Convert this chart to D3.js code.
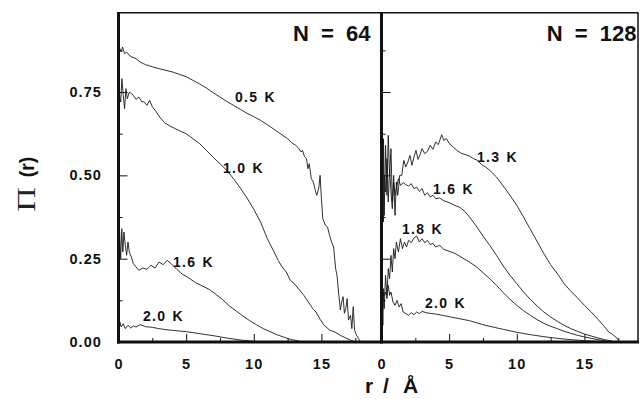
<!DOCTYPE html>
<html>
<head>
<meta charset="utf-8">
<script src="https://cdn.jsdelivr.net/npm/d3@7"></script>
<style>
  body { margin: 0; background: #fff; }
  svg { display: block; font-family: 'Liberation Sans', Arial, sans-serif; }
</style>
</head>
<body>
<div id="chart"></div>
<script>
// N = 64 panel
const r64_05 = [0, 0.1, 0.2, 0.3, 0.45, 0.6, 0.8, 1.0, 1.3, 1.6, 2.0, 2.5, 3.0, 3.5, 4.0, 4.5, 5.0, 5.5, 6.0, 6.5, 7.0, 7.5, 8.0, 8.5, 9.0, 9.5, 10.0, 10.5, 11.0, 11.5, 12.0, 12.5, 12.8, 13.1, 13.3, 13.5, 13.6, 13.75, 13.9, 14.0, 14.1, 14.25, 14.4, 14.55, 14.65, 14.8, 14.9, 15.0, 15.1, 15.3, 15.45, 15.6, 15.75, 15.9, 16.05, 16.15, 16.25, 16.4, 16.5, 16.6, 16.7, 16.8, 16.9, 17.0, 17.15, 17.25, 17.35, 17.45, 17.6, 17.75, 17.9]
const v64_05 = [0.86, 0.88, 0.87, 0.885, 0.865, 0.87, 0.86, 0.855, 0.85, 0.84, 0.832, 0.826, 0.82, 0.815, 0.81, 0.803, 0.796, 0.785, 0.774, 0.762, 0.748, 0.735, 0.722, 0.71, 0.698, 0.686, 0.676, 0.665, 0.652, 0.638, 0.624, 0.61, 0.598, 0.59, 0.582, 0.57, 0.575, 0.556, 0.55, 0.52, 0.535, 0.49, 0.48, 0.455, 0.44, 0.46, 0.5, 0.43, 0.37, 0.35, 0.345, 0.32, 0.3, 0.285, 0.22, 0.2, 0.156, 0.096, 0.12, 0.136, 0.086, 0.1, 0.13, 0.066, 0.08, 0.04, 0.106, 0.035, 0.02, 0.01, 0.0]

const r64_10 = [0, 0.08, 0.16, 0.25, 0.35, 0.45, 0.55, 0.65, 0.8, 0.95, 1.1, 1.3, 1.5, 1.7, 1.9, 2.1, 2.3, 2.5, 2.8, 3.1, 3.4, 3.8, 4.2, 4.6, 5.0, 5.5, 6.0, 6.5, 7.0, 7.5, 8.0, 8.5, 9.0, 9.5, 10.0, 10.5, 11.0, 11.5, 11.8, 12.1, 12.4, 12.7, 13.0, 13.4, 13.7, 13.9, 14.2, 14.4, 14.6, 14.9, 15.2, 15.6, 16.0, 16.4, 16.8, 17.2, 17.5]
const v64_10 = [0.70, 0.74, 0.72, 0.79, 0.74, 0.70, 0.76, 0.73, 0.75, 0.745, 0.74, 0.728, 0.735, 0.722, 0.72, 0.71, 0.725, 0.706, 0.69, 0.672, 0.658, 0.648, 0.64, 0.632, 0.625, 0.61, 0.595, 0.575, 0.554, 0.535, 0.515, 0.49, 0.462, 0.432, 0.398, 0.36, 0.31, 0.27, 0.245, 0.225, 0.21, 0.185, 0.175, 0.155, 0.14, 0.128, 0.11, 0.098, 0.09, 0.068, 0.05, 0.036, 0.03, 0.02, 0.012, 0.005, 0.0]

const r64_16 = [0, 0.08, 0.16, 0.24, 0.32, 0.4, 0.5, 0.6, 0.7, 0.8, 0.95, 1.1, 1.3, 1.5, 1.8, 2.1, 2.4, 2.7, 3.0, 3.3, 3.6, 3.9, 4.3, 4.7, 5.2, 5.7, 6.2, 6.7, 7.2, 7.7, 8.2, 8.7, 9.2, 9.7, 10.2, 10.7, 11.2, 11.7, 12.2, 12.7, 13.2, 13.6]
const v64_16 = [0.28, 0.33, 0.25, 0.34, 0.27, 0.33, 0.29, 0.26, 0.30, 0.27, 0.255, 0.235, 0.225, 0.215, 0.222, 0.218, 0.23, 0.222, 0.24, 0.232, 0.245, 0.235, 0.218, 0.204, 0.192, 0.178, 0.168, 0.158, 0.143, 0.127, 0.108, 0.093, 0.078, 0.064, 0.052, 0.04, 0.031, 0.022, 0.015, 0.008, 0.004, 0.0]

const r64_20 = [0, 0.1, 0.2, 0.35, 0.5, 0.7, 0.9, 1.1, 1.3, 1.6, 2.0, 2.5, 3.0, 3.5, 4.0, 5.0, 6.0, 7.0, 8.0, 9.0, 10.0, 11.0]
const v64_20 = [0.02, 0.06, 0.045, 0.055, 0.04, 0.05, 0.042, 0.048, 0.045, 0.052, 0.046, 0.044, 0.04, 0.037, 0.035, 0.031, 0.025, 0.019, 0.012, 0.006, 0.002, 0.0]

// N = 128 panel
const r128_13 = [0, 0.05, 0.1, 0.15, 0.2, 0.3, 0.4, 0.5, 0.6, 0.7, 0.8, 0.9, 1.0, 1.1, 1.2, 1.35, 1.5, 1.65, 1.8, 1.95, 2.1, 2.25, 2.4, 2.55, 2.7, 2.85, 3.0, 3.2, 3.4, 3.6, 3.8, 4.0, 4.2, 4.45, 4.6, 4.8, 5.0, 5.3, 5.6, 5.9, 6.2, 6.5, 6.8, 7.1, 7.4, 7.7, 8.0, 8.5, 9.0, 9.5, 10.0, 10.5, 11.0, 11.5, 12.0, 12.5, 13.0, 13.5, 14.0, 14.5, 15.0, 15.5, 16.0, 16.4, 16.8, 17.1, 17.4, 17.6]
const v128_13 = [0.45, 0.63, 0.40, 0.61, 0.38, 0.59, 0.44, 0.62, 0.50, 0.58, 0.42, 0.50, 0.38, 0.48, 0.44, 0.50, 0.50, 0.545, 0.525, 0.54, 0.56, 0.53, 0.555, 0.575, 0.548, 0.562, 0.58, 0.565, 0.572, 0.59, 0.578, 0.6, 0.592, 0.622, 0.605, 0.61, 0.596, 0.585, 0.574, 0.566, 0.562, 0.558, 0.55, 0.545, 0.532, 0.525, 0.515, 0.495, 0.468, 0.44, 0.41, 0.375, 0.338, 0.302, 0.265, 0.232, 0.205, 0.175, 0.152, 0.132, 0.11, 0.09, 0.068, 0.05, 0.03, 0.022, 0.012, 0.0]

const r128_16 = [0, 0.05, 0.1, 0.15, 0.2, 0.3, 0.4, 0.5, 0.6, 0.7, 0.8, 0.9, 1.0, 1.1, 1.25, 1.4, 1.6, 1.8, 2.0, 2.2, 2.4, 2.6, 2.8, 3.0, 3.2, 3.4, 3.6, 3.8, 4.0, 4.3, 4.6, 5.0, 5.4, 5.8, 6.2, 6.6, 7.0, 7.5, 8.0, 8.5, 9.0, 9.5, 10.0, 10.5, 11.0, 11.5, 12.0, 12.5, 13.0, 13.5, 14.0, 14.5, 15.0, 15.5, 16.0, 16.5, 17.0, 17.3]
const v128_16 = [0.52, 0.40, 0.56, 0.36, 0.50, 0.45, 0.55, 0.42, 0.52, 0.45, 0.40, 0.48, 0.44, 0.46, 0.49, 0.47, 0.478, 0.472, 0.468, 0.475, 0.46, 0.465, 0.452, 0.46, 0.44, 0.448, 0.435, 0.44, 0.43, 0.432, 0.424, 0.418, 0.41, 0.404, 0.39, 0.37, 0.348, 0.318, 0.29, 0.26, 0.228, 0.2, 0.175, 0.15, 0.128, 0.108, 0.09, 0.075, 0.062, 0.05, 0.04, 0.032, 0.024, 0.018, 0.012, 0.007, 0.003, 0.0]

const r128_18 = [0, 0.05, 0.1, 0.15, 0.2, 0.3, 0.4, 0.5, 0.6, 0.7, 0.8, 0.9, 1.0, 1.1, 1.25, 1.4, 1.55, 1.7, 1.85, 2.0, 2.2, 2.4, 2.6, 2.8, 3.0, 3.2, 3.4, 3.6, 3.8, 4.0, 4.3, 4.6, 5.0, 5.3, 5.6, 6.0, 6.5, 7.0, 7.5, 8.0, 8.5, 9.0, 9.5, 10.0, 10.5, 11.0, 11.5, 12.0, 12.5, 13.0, 13.5, 14.0, 14.5, 15.0, 15.5, 16.0, 16.5, 17.0]
const v128_18 = [0.08, 0.12, 0.05, 0.15, 0.10, 0.20, 0.14, 0.22, 0.19, 0.26, 0.21, 0.28, 0.25, 0.30, 0.27, 0.31, 0.28, 0.30, 0.285, 0.305, 0.298, 0.312, 0.318, 0.30, 0.31, 0.298, 0.305, 0.292, 0.296, 0.285, 0.29, 0.278, 0.272, 0.268, 0.262, 0.252, 0.24, 0.226, 0.208, 0.19, 0.17, 0.148, 0.128, 0.11, 0.094, 0.08, 0.067, 0.056, 0.047, 0.04, 0.032, 0.026, 0.02, 0.015, 0.011, 0.007, 0.004, 0.0]

const r128_20 = [0, 0.05, 0.1, 0.15, 0.2, 0.3, 0.4, 0.5, 0.6, 0.7, 0.85, 1.0, 1.15, 1.3, 1.45, 1.6, 1.8, 2.0, 2.2, 2.4, 2.6, 2.8, 3.0, 3.3, 3.6, 4.0, 4.5, 5.0, 5.5, 6.0, 6.5, 7.0, 7.5, 8.0, 9.0, 10.0, 11.0, 12.0, 13.0, 14.0, 15.0, 16.0, 17.0]
const v128_20 = [0.10, 0.17, 0.12, 0.16, 0.14, 0.15, 0.13, 0.17, 0.14, 0.15, 0.12, 0.11, 0.125, 0.105, 0.115, 0.09, 0.085, 0.08, 0.088, 0.082, 0.09, 0.085, 0.092, 0.088, 0.086, 0.084, 0.08, 0.076, 0.072, 0.068, 0.064, 0.058, 0.052, 0.047, 0.038, 0.029, 0.022, 0.016, 0.011, 0.007, 0.004, 0.002, 0.0]

const xMajor = [0, 5, 10, 15]
const xMinor = [2.5, 7.5, 12.5, 17.5]
const yMajor = [0, 0.25, 0.5, 0.75]
const yMinor = [0.125, 0.375, 0.625, 0.875]

const panels = [
    { title: 'N = 64', xmax: 19.44, range: [118.5, 381.5],
      curves: [
        { r: r64_05, v: v64_05, label: '0.5 K', lx: 235, ly: 101.5 },
        { r: r64_10, v: v64_10, label: '1.0 K', lx: 223, ly: 173 },
        { r: r64_16, v: v64_16, label: '1.6 K', lx: 173, ly: 267 },
        { r: r64_20, v: v64_20, label: '2.0 K', lx: 143, ly: 321 }
      ] },
    { title: 'N = 128', xmax: 18.96, range: [381.5, 638],
      curves: [
        { r: r128_13, v: v128_13, label: '1.3 K', lx: 477, ly: 162 },
        { r: r128_16, v: v128_16, label: '1.6 K', lx: 433, ly: 194 },
        { r: r128_18, v: v128_18, label: '1.8 K', lx: 402, ly: 234 },
        { r: r128_20, v: v128_20, label: '2.0 K', lx: 425, ly: 308 }
      ] }
]

const width = 644
const height = 399
const plotTop = 12.7
const plotBottom = 342

const svg = d3.select('#chart')
    .append('svg')
    .attr('width', width)
    .attr('height', height)

const yScale = d3.scaleLinear()
    .domain([0, 0.988])
    .range([plotBottom, plotTop])

panels.forEach((p, i) => {
    const xScale = d3.scaleLinear()
        .domain([0, p.xmax])
        .range(p.range)

    // x ticks, pointing into the plot
    const xMajorAxis = d3.axisBottom(xScale)
        .tickValues(xMajor)
        .tickSizeInner(-8)
        .tickSizeOuter(0)
        .tickPadding(17)
    const gx = svg.append('g')
        .attr('transform', 'translate(0,' + plotBottom + ')')
        .call(xMajorAxis)
    const gxm = svg.append('g')
        .attr('transform', 'translate(0,' + plotBottom + ')')
        .call(d3.axisBottom(xScale).tickValues(xMinor).tickSizeInner(-4).tickSizeOuter(0).tickFormat(''))

    // y ticks on the left edge of each panel
    const yAxis = d3.axisLeft(yScale)
        .tickValues(yMajor)
        .tickSizeInner(-9)
        .tickSizeOuter(0)
        .tickPadding(16.5)
        .tickFormat(d3.format('.2f'))
    const gy = svg.append('g')
        .attr('transform', 'translate(' + p.range[0] + ',0)')
        .call(yAxis)
    const gym = svg.append('g')
        .attr('transform', 'translate(' + p.range[0] + ',0)')
        .call(d3.axisLeft(yScale).tickValues(yMinor).tickSizeInner(-4).tickSizeOuter(0).tickFormat(''))
    if (i > 0) gy.selectAll('text').remove()

    ;[gx, gxm, gy, gym].forEach(g => {
        g.select('.domain').remove()
        g.selectAll('line').attr('stroke', '#111').attr('stroke-width', 1)
        g.selectAll('text')
            .attr('fill', '#111')
            .attr('font-size', 14.5)
            .attr('font-weight', 'bold')
            .attr('letter-spacing', 1.1)
    })

    // curves
    const line = d3.line()
        .x(d => xScale(d[0]))
        .y(d => yScale(d[1]))
    p.curves.forEach(c => {
        svg.append('path')
            .datum(d3.zip(c.r, c.v))
            .attr('d', line)
            .attr('fill', 'none')
            .attr('stroke', '#1a1a1a')
            .attr('stroke-width', 0.9)
            .attr('stroke-linejoin', 'round')
        svg.append('text')
            .attr('x', c.lx)
            .attr('y', c.ly)
            .attr('font-size', 14)
            .attr('font-weight', 'bold')
            .attr('letter-spacing', 1.3)
            .attr('word-spacing', 1)
            .attr('fill', '#111')
            .text(c.label)
    })

    // panel title
    svg.append('text')
        .attr('x', p.range[1] - (i === 0 ? 11 : 1.5))
        .attr('y', 40.5)
        .attr('text-anchor', 'end')
        .attr('font-size', 22)
        .attr('font-weight', 'bold')
        .attr('word-spacing', 6)
        .attr('fill', '#111')
        .text(p.title)
})

// frame
const frame = svg.append('g').attr('stroke', '#111').attr('fill', 'none')
frame.append('line').attr('x1', 118).attr('x2', 638.5).attr('y1', plotTop).attr('y2', plotTop).attr('stroke-width', 1.5)
frame.append('line').attr('x1', 638).attr('x2', 638).attr('y1', plotTop).attr('y2', plotBottom).attr('stroke-width', 1.5)
frame.append('line').attr('x1', 118.5).attr('x2', 118.5).attr('y1', plotTop - 0.7).attr('y2', plotBottom + 1.5).attr('stroke-width', 3)
frame.append('line').attr('x1', 381.5).attr('x2', 381.5).attr('y1', plotTop - 0.7).attr('y2', plotBottom + 1.5).attr('stroke-width', 3)
frame.append('line').attr('x1', 117).attr('x2', 639).attr('y1', plotBottom).attr('y2', plotBottom).attr('stroke-width', 3)

// axis titles: a wide, light serif capital pi and a bold "(r)"
svg.append('text')
    .attr('transform', 'translate(35,199.5) rotate(-90) scale(1.3,1)')
    .attr('text-anchor', 'middle')
    .attr('font-family', "'Liberation Serif', 'Times New Roman', serif")
    .attr('font-size', 26)
    .attr('fill', '#222')
    .text('Π')
svg.append('text')
    .attr('transform', 'translate(34,167) rotate(-90)')
    .attr('text-anchor', 'middle')
    .attr('font-size', 19.5)
    .attr('font-weight', 'bold')
    .attr('fill', '#111')
    .text('(r)')

const xTitle = svg.append('text')
    .attr('y', 393)
    .attr('font-size', 21)
    .attr('font-weight', 'bold')
    .attr('fill', '#111')
xTitle.append('tspan').attr('x', 365).text('r')
xTitle.append('tspan').attr('x', 383).text('/')
xTitle.append('tspan').attr('x', 403).text('Å')
</script>
</body>
</html>
